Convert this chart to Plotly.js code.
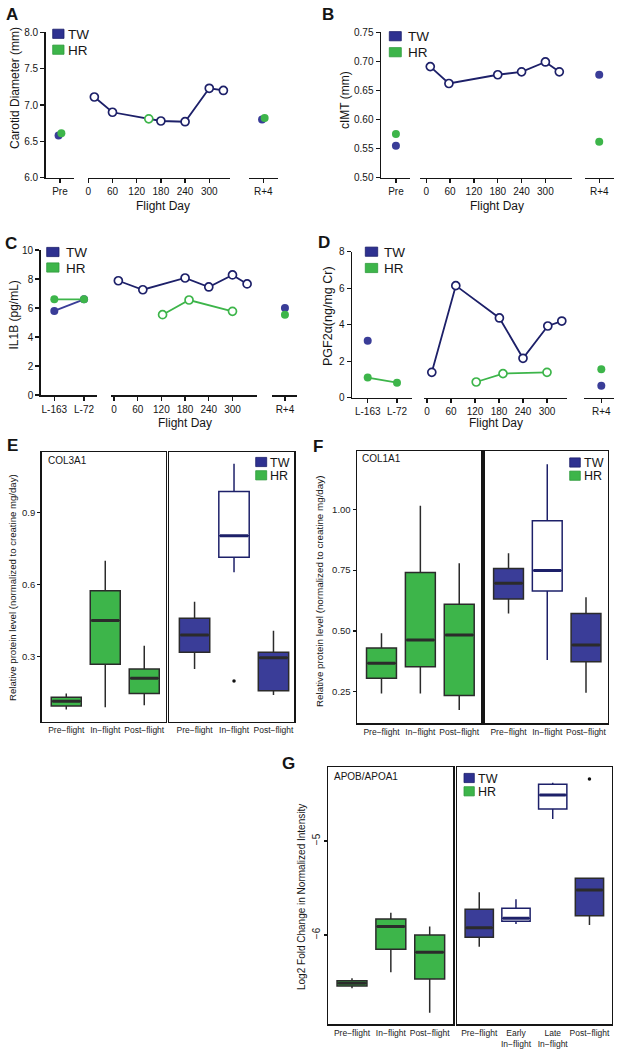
<!DOCTYPE html>
<html><head><meta charset="utf-8">
<script src="https://cdn.plot.ly/plotly-3.0.1.min.js"></script>
<style>html,body{margin:0;padding:0;background:#fff}#chart{width:624px;height:1050px}</style>
</head><body><div id="chart"></div>
<script>
// ================= DATA =================
// Panel A: Carotid Diameter (mm)
const A_preTW=[6.58], A_preHR=[6.61];
const A_dayTW=[15,60,180,240,300,335], A_TW=[7.11,6.90,6.78,6.77,7.23,7.20];
const A_dayHR=[150], A_HR=[6.81];
const A_r4TW=[6.80], A_r4HR=[6.82];
// Panel B: cIMT (mm)
const B_preTW=[0.555], B_preHR=[0.575];
const B_dayTW=[10,57,180,240,300,335], B_TW=[0.691,0.662,0.677,0.682,0.699,0.682];
const B_r4TW=[0.677], B_r4HR=[0.562];
// Panel C: IL1B (pg/mL)
const C_preDays=[-163,-72], C_preTW=[5.8,6.6], C_preHR=[6.6,6.6];
const C_dayTW=[11,73,180,240,300,337], C_TW=[7.88,7.26,8.07,7.45,8.28,7.66];
const C_dayHR=[123,190,300], C_HR=[5.54,6.55,5.77];
const C_r4TW=[6.0], C_r4HR=[5.54];
// Panel D: PGF2a (ng/mg Cr)
const D_preDaysTW=[-163], D_preTW=[3.12];
const D_preDaysHR=[-163,-72], D_preHR=[1.10,0.82];
const D_dayTW=[12,72,181,240,302,337], D_TW=[1.39,6.14,4.37,2.16,3.93,4.20];
const D_dayHR=[123,190,300], D_HR=[0.86,1.32,1.39];
const D_r4TW=[0.66], D_r4HR=[1.56];
// Tick labels
const dayTicks=[0,60,120,180,240,300];
const preLabelsCD=['L-163','L-72'];
// Panel E: COL3A1 boxes
const E_cats=['Pre\u2212flight','In\u2212flight','Post\u2212flight'];
const E_HR={lo:[0.078,0.087,0.096],q1:[0.093,0.267,0.145],med:[0.112,0.45,0.208],q3:[0.129,0.574,0.247],hi:[0.145,0.699,0.344]};
const E_TW={lo:[0.247,0.651,0.138],q1:[0.317,0.714,0.156],med:[0.389,0.803,0.294],q3:[0.459,0.988,0.317],hi:[0.528,1.104,0.407]};
const E_TWout={x:[2],y:[0.197]};
// Panel F: COL1A1 boxes
const F_cats=['Pre\u2212flight','In\u2212flight','Post\u2212flight'];
const F_HR={lo:[0.243,0.243,0.175],q1:[0.305,0.353,0.234],med:[0.367,0.463,0.483],q3:[0.43,0.74,0.61],hi:[0.49,1.015,0.778]};
const F_TW={lo:[0.572,0.38,0.246],q1:[0.631,0.664,0.373],med:[0.696,0.748,0.442],q3:[0.757,0.953,0.572],hi:[0.819,1.186,0.638]};
// Panel G: APOB/APOA1 boxes
const G_catsHR=['Pre\u2212flight','In\u2212flight','Post\u2212flight'];
const G_catsTW=['Pre\u2212flight','Early<br>In\u2212flight','Late<br>In\u2212flight','Post\u2212flight'];
const G_HR={lo:[-6.567,-6.397,-6.827],q1:[-6.543,-6.152,-6.468],med:[-6.514,-5.91,-6.184],q3:[-6.486,-5.83,-6.0],hi:[-6.461,-5.763,-5.91]};
const G_TW={lo:[-6.124,-5.883,-4.766,-5.894],q1:[-6.025,-5.854,-4.66,-5.795],med:[-5.922,-5.822,-4.511,-5.521],q3:[-5.727,-5.716,-4.397,-5.397],hi:[-5.546,-5.62,-4.38,-5.397]};
const G_TWout={x:[4],y:[-4.34]};

// ================= STYLE / LAYOUT =================
const W=624,H=1050;
const XD=(a,b)=>[a/W,b/W];
const YD=(t,b)=>[1-b/H,1-t/H];
const navyFill='#3a3d98', navyLine='#1d2069', green='#3db54a', edge='#2b2b2b', ink='#151515';
const FONT='"Liberation Sans", Arial, Helvetica, sans-serif';
const NARROW='"Liberation Sans Narrow", "Liberation Sans", Arial, sans-serif';
const layout={width:W,height:H,margin:{l:0,r:0,t:0,b:0,pad:0},autosize:false,
  paper_bgcolor:'#fff',plot_bgcolor:'rgba(0,0,0,0)',showlegend:false,
  font:{family:FONT,color:ink},annotations:[],shapes:[],boxmode:'overlay'};
const data=[];
const key=(l,n)=>l+'axis'+(n===1?'':n);
const ref=(l,n)=>l+(n===1?'':n);

function lineAx(extra){
  return Object.assign({showline:true,linecolor:ink,linewidth:1.5,ticks:'outside',ticklen:4,tickwidth:1.3,
    tickcolor:ink,showgrid:false,zeroline:false,tickangle:0,tickfont:{size:10,color:ink,family:FONT},fixedrange:true},extra);
}
function setX(n,dom,range,tickvals,ticktext,anchor,extra){
  layout[key('x',n)]=lineAx(Object.assign({domain:XD(dom[0],dom[1]),range,tickvals,ticktext,anchor:ref('y',anchor)},extra||{}));
}
function setY(n,dom,range,tickvals,fmt,anchor,extra){
  layout[key('y',n)]=lineAx(Object.assign({domain:YD(dom[0],dom[1]),range,tickvals,tickformat:fmt,anchor:ref('x',anchor)},extra||{}));
}
function dots(xn,yn,x,y,color){
  data.push({type:'scatter',mode:'markers',x,y,xaxis:ref('x',xn),yaxis:ref('y',yn),
    marker:{color,size:8,line:{width:0}},cliponaxis:false,hoverinfo:'skip'});
}
function filledLine(xn,yn,x,y,color){
  data.push({type:'scatter',mode:'lines+markers',x,y,xaxis:ref('x',xn),yaxis:ref('y',yn),
    line:{color,width:1.8},marker:{color,size:8,line:{width:0}},cliponaxis:false,hoverinfo:'skip'});
}
function openLine(xn,yn,x,y,color,mode){
  data.push({type:'scatter',mode:mode||'lines+markers',x,y,xaxis:ref('x',xn),yaxis:ref('y',yn),
    line:{color,width:1.8},marker:{color:'#fff',size:8,line:{color,width:1.7}},cliponaxis:false,hoverinfo:'skip'});
}
const rep=(arr,v)=>arr.map(()=>v);
// single-tick segments: tick at fraction f of the segment
const segRange=f=>[0.5-f,1.5-f];

// ---------- Panel A ----------
setY(1,[32.3,177.7],[6,8],[6,6.5,7,7.5,8],'.1f',1);
setX(1,[45.7,73.7],segRange(0.51),[0.5],['Pre'],1);
setX(2,[88.3,230],[0,351.4],dayTicks,null,1);
setX(3,[249.3,277.7],segRange(0.49),[0.5],['R+4'],1);
dots(1,1,rep(A_preTW,0.45),A_preTW,navyFill);
dots(1,1,rep(A_preHR,0.55),A_preHR,green);
openLine(2,1,A_dayTW,A_TW,navyLine);
openLine(2,1,A_dayHR,A_HR,green,'markers');
dots(3,1,rep(A_r4TW,0.46),A_r4TW,navyFill);
dots(3,1,rep(A_r4HR,0.55),A_r4HR,green);

// ---------- Panel B ----------
setY(2,[32.3,177.7],[0.5,0.75],[0.5,0.55,0.6,0.65,0.7,0.75],'.2f',4);
setX(4,[381,409.7],segRange(0.52),[0.5],['Pre'],2);
setX(5,[420.3,572],[-15.1,367],dayTicks,null,2);
setX(6,[585.3,613.7],segRange(0.49),[0.5],['R+4'],2);
dots(4,2,rep(B_preHR,0.5),B_preHR,green);
dots(4,2,rep(B_preTW,0.5),B_preTW,navyFill);
openLine(5,2,B_dayTW,B_TW,navyLine);
dots(6,2,rep(B_r4TW,0.5),B_r4TW,navyFill);
dots(6,2,rep(B_r4HR,0.5),B_r4HR,green);

// ---------- Panel C ----------
setY(3,[250,395],[0,10],[0,2,4,6,8,10],null,7);
setX(7,[40.7,97.3],[-204.7,-31.3],C_preDays,preLabelsCD,3);
setX(8,[111,256.7],[-7.6,361.3],dayTicks,null,3);
setX(9,[271.7,296.7],segRange(0.53),[0.5],['R+4'],3);
filledLine(7,3,C_preDays,C_preTW,navyFill);
filledLine(7,3,C_preDays,C_preHR,green);
openLine(8,3,C_dayTW,C_TW,navyLine);
openLine(8,3,C_dayHR,C_HR,green);
dots(9,3,rep(C_r4TW,0.5),C_r4TW,navyFill);
dots(9,3,rep(C_r4HR,0.5),C_r4HR,green);

// ---------- Panel D ----------
setY(4,[251.7,397.7],[0,8],[0,2,4,6,8],null,10);
setX(10,[352,412],[-211.8,-25.4],C_preDays,preLabelsCD,4);
setX(11,[423.7,567],[-8.25,350],dayTicks,null,4);
setX(12,[583.7,613.7],segRange(0.587),[0.5],['R+4'],4);
dots(10,4,D_preDaysTW,D_preTW,navyFill);
filledLine(10,4,D_preDaysHR,D_preHR,green);
openLine(11,4,D_dayTW,D_TW,navyLine);
openLine(11,4,D_dayHR,D_HR,green);
dots(12,4,rep(D_r4TW,0.5),D_r4TW,navyFill);
dots(12,4,rep(D_r4HR,0.5),D_r4HR,green);

// ---------- Box panels ----------
function frameX(n,dom,range,cats,anchor){
  layout[key('x',n)]={domain:XD(dom[0],dom[1]),range,tickvals:cats.map((c,i)=>i+1),ticktext:cats,
    anchor:ref('y',anchor),showline:true,mirror:true,linecolor:ink,linewidth:1.5,ticks:'',showgrid:false,
    zeroline:false,tickangle:0,tickfont:{size:8.5,color:'#222',family:FONT},fixedrange:true};
}
function frameY(n,dom,range,tickvals,fmt,anchor,labels,extra){
  layout[key('y',n)]=Object.assign({domain:YD(dom[0],dom[1]),range,tickvals,tickformat:fmt,anchor:ref('x',anchor),
    showline:true,mirror:true,linecolor:ink,linewidth:1.5,ticks:labels?'outside':'',ticklen:3,tickwidth:1.2,tickcolor:ink,
    showticklabels:!!labels,showgrid:false,zeroline:false,tickfont:{size:9.5,color:'#222',family:FONT},fixedrange:true},extra||{});
}
function boxes(xn,yn,st,fill,openIdx){
  const w=0.77;
  st.med.forEach((m,i)=>{
    const open=openIdx.includes(i);
    const lc=open?navyLine:edge;
    data.push({type:'box',orientation:'v',x:[i+1],q1:[st.q1[i]],median:[m],q3:[st.q3[i]],
      lowerfence:[st.lo[i]],upperfence:[st.hi[i]],width:w,xaxis:ref('x',xn),yaxis:ref('y',yn),
      fillcolor:open?'#ffffff':fill,line:{color:lc,width:1.5},whiskerwidth:0,boxpoints:false,hoverinfo:'skip'});
    data.push({type:'scatter',mode:'lines',x:[i+1-w/2+0.03,i+1+w/2-0.03],y:[m,m],xaxis:ref('x',xn),yaxis:ref('y',yn),
      line:{color:lc,width:3},hoverinfo:'skip'});
  });
}
function outliers(xn,yn,o){
  data.push({type:'scatter',mode:'markers',x:o.x,y:o.y,xaxis:ref('x',xn),yaxis:ref('y',yn),
    marker:{color:'#111',size:3.5},hoverinfo:'skip'});
}
// E
frameY(5,[452.3,721.7],[0.027,1.152],[0.3,0.6,0.9],'.1f',13,true);
frameX(13,[41.7,165.7],[0.37,3.55],E_cats,5);
frameY(6,[452.3,721.7],[0.027,1.152],[0.3,0.6,0.9],'.1f',14,false);
frameX(14,[169.3,294],[0.36,3.52],E_cats,6);
boxes(13,5,E_HR,green,[]);
boxes(14,6,E_TW,navyFill,[1]);
outliers(14,6,E_TWout);
// F
frameY(7,[451,723.3],[0.12,1.24],[0.25,0.5,0.75,1.0],'.2f',15,true);
frameX(15,[357,481],[0.37,3.56],F_cats,7);
frameY(8,[451,723.3],[0.12,1.24],[0.25,0.5,0.75,1.0],'.2f',16,false);
frameX(16,[484.5,607.7],[0.38,3.56],F_cats,8);
boxes(15,7,F_HR,green,[]);
boxes(16,8,F_TW,navyFill,[1]);
// G
frameY(9,[767.3,1024.3],[-6.95,-4.216],[-6,-5],null,17,true,{tickangle:-90,tickfont:{size:10,color:'#222',family:FONT}});
frameX(17,[328.3,453],[0.39,3.6],G_catsHR,9);
frameY(10,[767.3,1024.3],[-6.95,-4.216],[-6,-5],null,18,false);
frameX(18,[457.2,611.5],[0.4,4.6],G_catsTW,10);
boxes(17,9,G_HR,green,[]);
boxes(18,10,G_TW,navyFill,[1,2]);
outliers(18,10,G_TWout);

// ---------- Annotations ----------
function ann(text,x,y,o){
  o=o||{};
  layout.annotations.push({text,x:x/W,y:1-y/H,xref:'paper',yref:'paper',showarrow:false,
    xanchor:o.xa||'center',yanchor:o.ya||'middle',textangle:o.angle||0,
    font:{size:o.size||12,color:ink,family:o.family||FONT}});
}
// panel letters
[['A',12,15],['B',328,15],['C',11,243],['D',323.5,242],['E',12.5,445.5],['F',317.5,446],['G',288,763]]
  .forEach(([t,x,y])=>ann('<b>'+t+'</b>',x,y,{size:17,family:NARROW}));
// y titles
ann('Carotid Diameter (mm)',15,88,{angle:-90,size:12});
ann('cIMT (mm)',345,100,{angle:-90,size:12});
ann('IL1B (pg/mL)',13.5,315,{angle:-90,size:12});
ann('PGF2\u03b1(ng/mg Cr)',328.5,316.5,{angle:-90,size:12.5});
ann('Relative protein level (normalized to creatine mg/day)',12,588,{angle:-90,size:9.6});
ann('Relative protein level (normalized to creatine mg/day)',319,592,{angle:-90,size:9.8});
ann('Log2 Fold Change in Normalized Intensity',301.5,897.5,{angle:-90,size:10});
// x titles
ann('Flight Day',162.5,206,{size:12});
ann('Flight Day',497,206,{size:12});
ann('Flight Day',185,423,{size:12});
ann('Flight Day',496.5,423,{size:12});
// inner panel labels
ann('COL3A1',45.7,460,{xa:'left',size:10});
ann('COL1A1',360,458,{xa:'left',size:10});
ann('APOB/APOA1',331.7,776.7,{xa:'left',size:10});
// legends
function legend(x0,x1,yTW,yHR,tx,size){
  const h=9.2;
  [[yTW,navyLine,'#2e3190','TW'],[yHR,'#2f9a3c',green,'HR']].forEach(([yc,lc,fc,t])=>{
    layout.shapes.push({type:'rect',xref:'paper',yref:'paper',x0:x0/W,x1:x1/W,y0:1-(yc+h/2)/H,y1:1-(yc-h/2)/H,
      fillcolor:fc,line:{color:lc,width:0.8}});
    ann(t,tx,yc+0.5,{xa:'left',size});
  });
}
legend(52.7,64,33.8,49.7,66,13.5);
legend(389.3,401.3,36.2,52.2,406,13.5);
legend(46.7,59,252,267.5,63.5,13.5);
legend(365.3,377.7,251.7,268,382,13.5);
legend(255.7,266.7,462,475.3,267.5,12.5);
legend(569.7,580.3,462.5,475.7,581.5,12.5);
legend(464,474.3,778,791.3,476,12.5);

Plotly.newPlot('chart',data,layout,{staticPlot:true,displayModeBar:false});
</script></body></html>
